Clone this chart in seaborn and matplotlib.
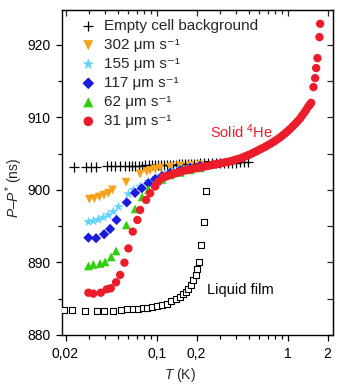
import numpy as np
import pandas as pd
import matplotlib
matplotlib.use("Agg")
import matplotlib.pyplot as plt
import matplotlib.ticker as mticker
import seaborn as sns

# ---------------- data ----------------
bg_T = [0.02325, 0.0287, 0.0313, 0.0342, 0.0415, 0.0445, 0.0478, 0.0522, 0.057, 0.0606,
        0.0645, 0.0679, 0.0722, 0.0768, 0.081, 0.0861, 0.0916, 0.0965, 0.1018, 0.1073,
        0.1131, 0.1192, 0.1257, 0.1325, 0.1397, 0.147, 0.155, 0.1636, 0.1725, 0.182,
        0.1916, 0.202, 0.213, 0.228, 0.245, 0.263, 0.282, 0.303, 0.325, 0.348,
        0.374, 0.401, 0.43, 0.461, 0.495]
bg_P = [903.2, 903.2, 903.2, 903.2, 903.25, 903.25, 903.25, 903.3, 903.3, 903.3,
        903.3, 903.35, 903.35, 903.35, 903.4, 903.4, 903.4, 903.4, 903.45, 903.45,
        903.45, 903.5, 903.5, 903.5, 903.5, 903.55, 903.55, 903.55, 903.6, 903.6,
        903.6, 903.6, 903.65, 903.65, 903.65, 903.7, 903.7, 903.7, 903.7, 903.75,
        903.75, 903.75, 903.8, 903.8, 903.8]

v302_T = [0.0304, 0.0332, 0.0363, 0.0394, 0.0425, 0.0456, 0.058, 0.0741, 0.0834, 0.0885,
          0.0966, 0.1054, 0.1257, 0.1498, 0.1786, 0.213]
v302_P = [898.72, 898.8, 899.03, 899.27, 899.54, 900.0, 901.06, 902.2, 902.52, 902.66,
          902.86, 903.03, 903.17, 903.31, 903.38, 903.45]

v155_T = [0.0299, 0.0326, 0.0356, 0.0389, 0.0425, 0.0463, 0.0508, 0.0604, 0.066, 0.0742,
          0.0859, 0.0983, 0.115, 0.1303, 0.1498, 0.1786, 0.213]
v155_P = [895.59, 895.72, 895.93, 896.21, 896.55, 897.0, 897.66, 899.45, 900.0, 900.48,
          901.14, 901.66, 902.2, 902.62, 902.9, 903.17, 903.38]

v117_T = [0.0299, 0.0342, 0.0394, 0.0438, 0.049, 0.0587, 0.0679, 0.0764, 0.0858, 0.0966,
          0.1092, 0.1257, 0.1498, 0.1786, 0.213]
v117_P = [893.42, 893.34, 893.89, 894.62, 895.86, 898.28, 899.59, 900.23, 900.92, 901.48,
          901.93, 902.34, 902.69, 903.03, 903.31]

v62_T = [0.0299, 0.0326, 0.0367, 0.0401, 0.0446, 0.0486, 0.0583, 0.0679, 0.0768, 0.0859,
         0.0966, 0.1092, 0.1257, 0.1498, 0.1786, 0.213]
v62_P = [889.52, 889.72, 889.86, 890.07, 890.76, 891.59, 895.17, 897.38, 899.03, 900.07,
         900.83, 901.45, 902.07, 902.41, 902.76, 903.03]

v31_T = [0.0299, 0.0326, 0.0372, 0.0413, 0.0443, 0.0486, 0.0522, 0.0563, 0.0604, 0.0652,
         0.0707, 0.0742, 0.0824, 0.0885, 0.0966, 0.1023, 0.1117, 0.1151, 0.1257, 0.1372,
         0.1498, 0.1636, 0.1786, 0.195, 0.213, 0.2325, 0.254, 0.2772, 0.303, 0.3304,
         0.361, 0.394, 0.43, 0.4696, 0.513, 0.56, 0.611, 0.6674, 0.729, 0.7959,
         0.869, 0.9487, 1.036, 1.131, 1.235, 1.325, 1.421, 1.498,
         1.56, 1.607, 1.636, 1.674, 1.734, 1.755,
         0.1102, 0.1203, 0.1313, 0.1434, 0.1565, 0.1709, 0.1866, 0.2038, 0.2226, 0.2429,
         0.2653, 0.2896, 0.3162, 0.3453, 0.377, 0.4116, 0.4494, 0.4907, 0.5358, 0.585,
         0.6387, 0.6975, 0.7616, 0.8315, 0.9079, 0.9912, 1.082, 1.182, 1.279, 1.372, 1.459]
v31_P = [885.83, 885.7, 885.83, 886.3, 886.44, 887.27, 888.28, 889.97, 891.93, 894.25,
         895.86, 897.24, 898.62, 899.54, 900.46, 901.14, 901.83, 901.79, 902.07, 902.28,
         902.48, 902.69, 902.83, 902.97, 903.1, 903.24, 903.38, 903.52, 903.66, 903.79,
         903.93, 904.14, 904.34, 904.62, 904.9, 905.24, 905.59, 905.93, 906.34, 906.76,
         907.24, 907.79, 908.41, 909.1, 909.86, 910.62, 911.45, 912.0,
         914.17, 915.41, 916.79, 918.17, 921.06, 922.9,
         901.66, 901.93, 902.17, 902.38, 902.59, 902.76, 902.9, 903.03, 903.17, 903.31,
         903.45, 903.59, 903.72, 903.86, 904.03, 904.24, 904.48, 904.76, 905.07, 905.41,
         905.76, 906.14, 906.55, 907.0, 907.52, 908.1, 908.76, 909.48, 910.24, 911.03, 911.72]

film_T = [0.0195, 0.0223, 0.0282, 0.0347, 0.0396, 0.0464, 0.0531, 0.0587, 0.0652, 0.072,
          0.0777, 0.0843, 0.0911, 0.0995, 0.1087, 0.1187, 0.128, 0.1385, 0.1486, 0.158,
          0.1665, 0.173, 0.181, 0.189, 0.197, 0.201, 0.21, 0.217, 0.226, 0.2366,
          0.243, 0.262, 0.281]
film_P = [883.45, 883.45, 883.35, 883.31, 883.35, 883.35, 883.45, 883.54, 883.54, 883.63,
          883.68, 883.77, 883.9, 884.0, 884.14, 884.28, 884.62, 884.9, 885.24, 885.59,
          885.89, 886.3, 886.9, 887.59, 888.28, 889.1, 890.11, 892.41, 895.54, 899.86,
          903.54, 903.54, 903.54]

x_ticks = [0.02, 0.1, 0.2, 1, 2]
x_tick_labels = ["0,02", "0,1", "0,2", "1", "2"]
x_minor = [0.03, 0.04, 0.05, 0.06, 0.07, 0.08, 0.09, 0.3, 0.4, 0.5, 0.6, 0.7, 0.8, 0.9]
y_ticks = [880, 890, 900, 910, 920]

# ---------------- style ----------------
sns.set_style("ticks")
plt.rcParams["font.family"] = ["Liberation Sans", "DejaVu Sans"]
plt.rcParams["mathtext.fontset"] = "custom"
plt.rcParams["mathtext.rm"] = "Liberation Sans"
plt.rcParams["mathtext.it"] = "Liberation Sans:italic"
plt.rcParams["mathtext.bf"] = "Liberation Sans:bold"
plt.rcParams["font.size"] = 10

fig = plt.figure(figsize=(3.4, 3.84), dpi=100)
ax = fig.add_axes([62 / 340, 1 - 335 / 384, (333 - 62) / 340, (335 - 10) / 384])

C_OR = "#f7a21b"
C_CY = "#62d4f7"
C_BL = "#1b1be0"
C_GR = "#2ed10a"
C_RD = "#ec1c2a"

def df(T, P):
    return pd.DataFrame({"T": T, "P": P})

sns.scatterplot(data=df(film_T, film_P), x="T", y="P", ax=ax, marker="s", s=22,
                facecolor="white", edgecolor="black", linewidth=0.8, zorder=3)
sns.scatterplot(data=df(bg_T, bg_P), x="T", y="P", ax=ax, marker="+", s=45,
                color="black", linewidth=0.9, zorder=3, label="Empty cell background")
sns.scatterplot(data=df(v302_T, v302_P), x="T", y="P", ax=ax, marker="v", s=40,
                color=C_OR, edgecolor="none", linewidth=0, zorder=4, label="302 μm s⁻¹")
sns.scatterplot(data=df(v155_T, v155_P), x="T", y="P", ax=ax, marker="*", s=60,
                color=C_CY, edgecolor="none", linewidth=0, zorder=4, label="155 μm s⁻¹")
sns.scatterplot(data=df(v117_T, v117_P), x="T", y="P", ax=ax, marker="D", s=27,
                color=C_BL, edgecolor="none", linewidth=0, zorder=4, label="117 μm s⁻¹")
sns.scatterplot(data=df(v62_T, v62_P), x="T", y="P", ax=ax, marker="^", s=40,
                color=C_GR, edgecolor="none", linewidth=0, zorder=4, label="62 μm s⁻¹")
sns.scatterplot(data=df(v31_T, v31_P), x="T", y="P", ax=ax, marker="o", s=36,
                color=C_RD, edgecolor="none", linewidth=0, zorder=5, label="31 μm s⁻¹")

ax.set_xscale("log")
ax.set_xlim(0.0188, 2.2)
ax.set_ylim(880, 924.8)

ax.xaxis.set_major_locator(mticker.FixedLocator(x_ticks))
ax.xaxis.set_major_formatter(mticker.FixedFormatter(x_tick_labels))
ax.xaxis.set_minor_locator(mticker.FixedLocator(x_minor))
ax.xaxis.set_minor_formatter(mticker.NullFormatter())
ax.yaxis.set_major_locator(mticker.FixedLocator(y_ticks))
ax.yaxis.set_minor_locator(mticker.MultipleLocator(5))

for sp in ax.spines.values():
    sp.set_visible(True)
    sp.set_linewidth(1.0)
    sp.set_color("black")

ax.tick_params(which="both", direction="out", bottom=True, left=True, top=False, right=False,
               labelsize=10, width=0.9, colors="black")
ax.tick_params(which="major", length=4.5, pad=4)
ax.tick_params(which="minor", length=3)

# inward ticks on top / right
sec_x = ax.secondary_xaxis("top")
sec_x.xaxis.set_major_locator(mticker.FixedLocator(x_ticks))
sec_x.xaxis.set_minor_locator(mticker.FixedLocator(x_minor))
sec_x.xaxis.set_major_formatter(mticker.NullFormatter())
sec_x.xaxis.set_minor_formatter(mticker.NullFormatter())
sec_x.tick_params(which="both", direction="in", width=0.9)
sec_x.tick_params(which="major", length=4.5)
sec_x.tick_params(which="minor", length=3)
sec_y = ax.secondary_yaxis("right")
sec_y.yaxis.set_major_locator(mticker.FixedLocator(y_ticks))
sec_y.yaxis.set_minor_locator(mticker.MultipleLocator(5))
sec_y.yaxis.set_major_formatter(mticker.NullFormatter())
sec_y.yaxis.set_minor_formatter(mticker.NullFormatter())
sec_y.tick_params(which="both", direction="in", width=0.9, length=4)

ax.set_xlabel(r"$T$ (K)", fontsize=10)
ax.set_ylabel(r"$P$–$P^{*}$ (ns)", fontsize=10)
ax.xaxis.set_label_coords((180 - 62) / 271, -(372 - 335) / 325 + 0.02)
ax.yaxis.set_label_coords(-(62 - 25) / 271, (335 - 188) / 325)

ax.text(0.44, 908.0, "Solid $^{4}$He", color=C_RD, fontsize=10.5, ha="center", va="center")
ax.text(0.43, 886.2, "Liquid film", color="black", fontsize=10.5, ha="center", va="center")

leg = ax.legend(loc="upper left", bbox_to_anchor=(0.035, 1.0), frameon=False,
                fontsize=11, handletextpad=0.55, labelspacing=0.33, borderaxespad=0.2,
                handlelength=1.0, markerscale=1.15)

fig.savefig("out.png", dpi=100)
